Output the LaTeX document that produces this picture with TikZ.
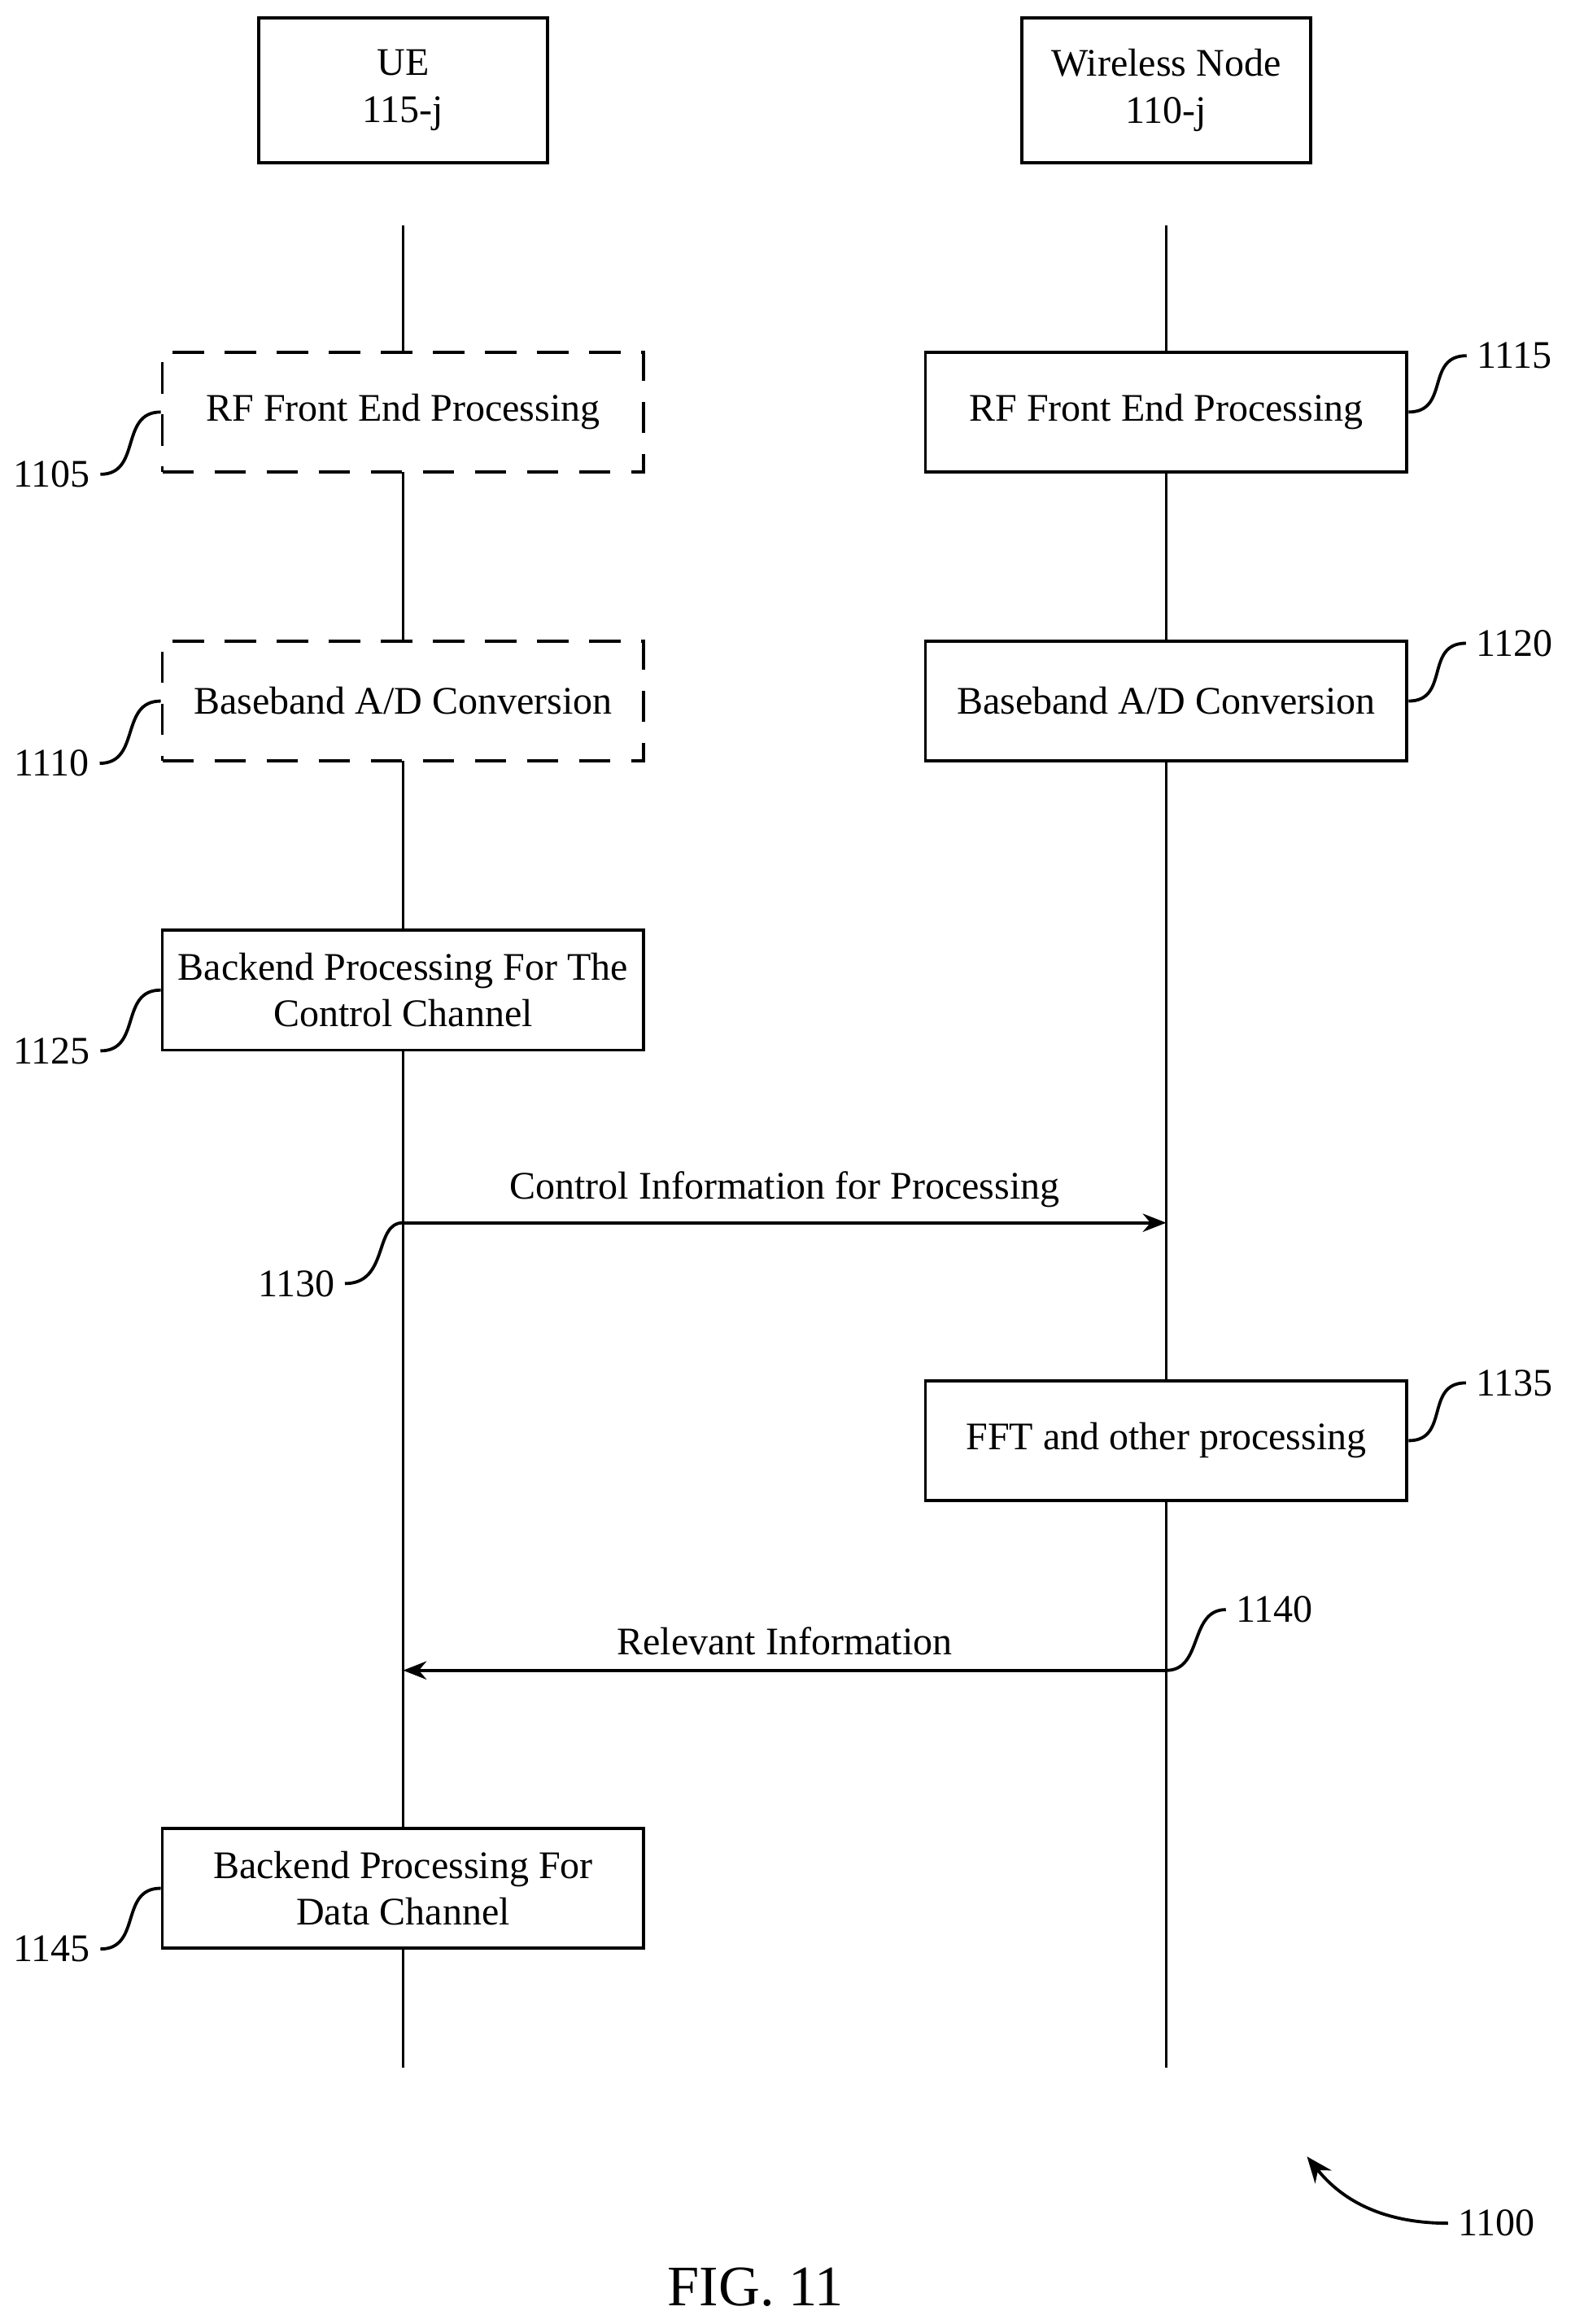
\documentclass[tikz,border=0pt]{standalone}
\usepackage{fontspec}
\setmainfont{Liberation Serif}
\usetikzlibrary{arrows.meta}
\begin{document}
\begin{tikzpicture}[x=0.02cm,y=-0.02cm,line width=1.2pt,
  every node/.style={font=\fontsize{15}{18}\selectfont},
  blk/.style={draw,fill=white,minimum width=6.5cm,minimum height=1.62cm,align=center,inner sep=1pt},
  hdr/.style={draw,fill=white,minimum width=3.9cm,minimum height=1.96cm,align=center},
  dsh/.style={blk,dash pattern=on 12pt off 8pt},
  msg/.style={-{Stealth[length=9pt,width=7pt]}}]
\useasboundingbox (0,0) rectangle (1060,1568);
% lifelines
\coordinate (ueTop) at (272,152);
\coordinate (ueBot) at (272,1395);
\coordinate (wnTop) at (787,152);
\coordinate (wnBot) at (787,1395);
\draw (ueTop) -- (ueBot);
\draw (wnTop) -- (wnBot);
% headers
\node[hdr] (ue) at (272,61) {UE\\115-j};
\node[hdr] (wn) at (787,61) {Wireless Node\\110-j};
% boxes
\node[dsh] (rfU) at (272,278) {RF Front End Processing};
\node[dsh] (bbU) at (272,473) {Baseband A/D Conversion};
\node[blk] (beC) at (272,668) {Backend Processing For The\\Control Channel};
\node[blk] (beD) at (272,1274) {Backend Processing For\\Data Channel};
\node[blk] (rfW) at (787,278) {RF Front End Processing};
\node[blk] (bbW) at (787,473) {Baseband A/D Conversion};
\node[blk] (fft) at (787,972) {FFT and other processing};
% messages
\coordinate (m1a) at (272,825);
\coordinate (m1b) at (787,825);
\coordinate (m2a) at (787,1127);
\coordinate (m2b) at (272,1127);
\draw[msg] (m1a) -- node[above=2pt] (ctl) {Control Information for Processing} (m1b);
\draw[msg] (m2a) -- node[above=2pt] (rel) {Relevant Information} (m2b);
% reference numbers
\node (n1105) at (35,320) {1105};
\node (n1110) at (35,515) {1110};
\node (n1125) at (35,709) {1125};
\node (n1145) at (35,1315) {1145};
\node (n1115) at (1022,240) {1115};
\node (n1120) at (1022,434) {1120};
\node (n1135) at (1022,933) {1135};
\node (n1130) at (200,866) {1130};
\node (n1140) at (860,1086) {1140};
\node (n1100) at (1010,1500) {1100};
\node[font=\fontsize{22}{26}\selectfont] (fig) at (510,1543) {FIG. 11};
\foreach \n/\b in {n1105/rfU,n1110/bbU,n1125/beC,n1145/beD}
  \draw (\n.east) .. controls +(28,0) and +(-28,0) .. (\b.west);
\foreach \n/\b in {n1115/rfW,n1120/bbW,n1135/fft}
  \draw (\b.east) .. controls +(28,0) and +(-28,0) .. (\n.west);
\draw (n1130.east) .. controls +(30,0) and +(-20,0) .. (m1a);
\draw (m2a) .. controls +(25,0) and +(-25,0) .. (n1140.west);
\draw[-{Stealth[length=10pt,width=8pt]}] (n1100.west) .. controls +(-50,0) and +(20,25) .. (882,1455);
\end{tikzpicture}
\end{document}
